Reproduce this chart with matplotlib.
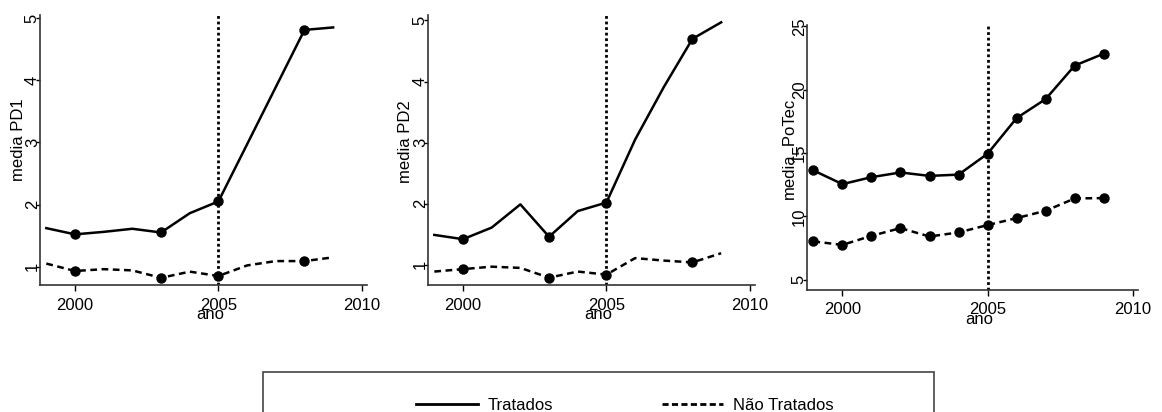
import matplotlib
matplotlib.use('Agg')
import matplotlib.pyplot as plt
from matplotlib.lines import Line2D
from matplotlib.patches import Rectangle

plt.rcParams['font.family'] = ['Liberation Sans', 'DejaVu Sans']

anos = list(range(1999, 2010))

# media PD1
pd1_trat = [1.62, 1.52, 1.56, 1.61, 1.55, 1.86, 2.05, 2.97, 3.89, 4.81, 4.85]
pd1_nao = [1.05, 0.93, 0.96, 0.94, 0.82, 0.92, 0.85, 1.02, 1.09, 1.09, 1.15]

# media PD2
pd2_trat = [1.49, 1.42, 1.61, 1.99, 1.46, 1.88, 2.02, 3.05, 3.91, 4.70, 4.97]
pd2_nao = [0.89, 0.93, 0.97, 0.95, 0.79, 0.89, 0.84, 1.11, 1.07, 1.04, 1.19]

# media_PoTec
potec_trat = [13.63, 12.55, 13.10, 13.47, 13.20, 13.30, 14.95, 17.76, 19.26, 21.90, 22.84]
potec_nao = [8.03, 7.76, 8.47, 9.08, 8.42, 8.74, 9.32, 9.87, 10.45, 11.42, 11.45]

W, H = 1162, 412
fig = plt.figure(figsize=(W / 100, H / 100), dpi=100)


def eixo(l, r, t, b):
    return fig.add_axes([l / W, 1 - b / H, (r - l) / W, (b - t) / H])


def painel(ax, trat, nao, ylabel, yticks, ylim, marcas, lab_x, lab_y, xlab_y):
    ax.plot(anos, trat, color='black', lw=1.8, marker='o', markersize=6.5,
            markevery=marcas)
    ax.plot(anos, nao, color='black', lw=1.8, ls=(0, (2.7, 1.8)), marker='o',
            markersize=6.5, markevery=marcas)
    ax.axvline(2005, color='black', lw=2, ls=(0, (1, 1)))
    ax.set_xlim(1998.78, 2010.18)
    ax.set_ylim(*ylim)
    ax.set_xticks([2000, 2005, 2010])
    ax.set_yticks(yticks)
    for s in ['top', 'right']:
        ax.spines[s].set_visible(False)
    for s in ['left', 'bottom']:
        ax.spines[s].set_linewidth(1.2)
        ax.spines[s].set_color('#333333')
    ax.tick_params(axis='x', length=4, width=1, pad=5, labelsize=12)
    ax.tick_params(axis='y', length=3, width=1, pad=2.5, labelsize=12)
    plt.setp(ax.get_yticklabels(), rotation=90, va='center', ha='center')
    ax.set_ylabel(ylabel, fontsize=12)
    ax.yaxis.set_label_coords(lab_x, lab_y)
    ax.set_xlabel('ano', fontsize=12)
    ax.xaxis.set_label_coords(0.52, xlab_y)


marcas12 = [1, 4, 6, 9]
todas = list(range(len(anos)))

ax1 = eixo(40, 367, 15, 285)
painel(ax1, pd1_trat, pd1_nao, 'media PD1', [1, 2, 3, 4, 5], (0.705, 5.05),
       marcas12, -0.042, 0.537, -0.082)

ax2 = eixo(428, 755, 15, 285)
painel(ax2, pd2_trat, pd2_nao, 'media PD2', [1, 2, 3, 4, 5], (0.67, 5.09),
       marcas12, -0.045, 0.53, -0.082)

ax3 = eixo(807, 1138, 25, 290)
painel(ax3, potec_trat, potec_nao, 'media_PoTec', [5, 10, 15, 20, 25], (4.2, 25.1),
       todas, -0.030, 0.536, -0.083)

# caixa da legenda
fig.add_artist(Rectangle((263 / W, -0.05), (934 - 263) / W, 1.05 - 372 / H,
                         transform=fig.transFigure, fill=False,
                         edgecolor='#444444', lw=1.2))

handles = [Line2D([], [], color='black', lw=2),
           Line2D([], [], color='black', lw=2, ls=(0, (2.2, 1.2)))]
fig.legend(handles, ['Tratados', 'Não Tratados'], ncol=2, frameon=False,
           loc='center', bbox_to_anchor=(625 / W, 1 - 405 / H), fontsize=12,
           handlelength=3.7, handletextpad=0.6, columnspacing=6.5)

fig.savefig('out.png', dpi=100)
